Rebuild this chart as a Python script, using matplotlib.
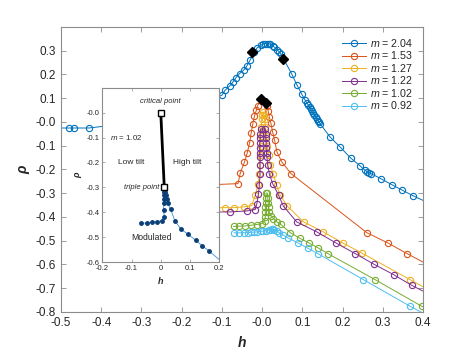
import matplotlib
matplotlib.use('Agg')
import matplotlib.pyplot as plt
import numpy as np

plt.rcParams['font.family'] = ['Liberation Sans', 'DejaVu Sans']
plt.rcParams['mathtext.fontset'] = 'custom'
plt.rcParams['mathtext.it'] = 'Liberation Sans:italic'
plt.rcParams['mathtext.rm'] = 'Liberation Sans'

# --- data ---
m_labels = ['2.04', '1.53', '1.27', '1.22', '1.02', '0.92']
colors = ['#0072BD', '#D95319', '#EDB120', '#7E2F8E', '#77AC30', '#4DBEEE']

h_204 = [-0.55, -0.481, -0.467, -0.431, -0.30, -0.20, -0.100, -0.092, -0.081, -0.073, -0.065, -0.056,
         -0.046, -0.038, -0.030, -0.020, -0.012, -0.004, 0.003, 0.008, 0.012, 0.016, 0.020, 0.026,
         0.030, 0.037, 0.043, 0.046, 0.053, 0.074, 0.086, 0.099, 0.107, 0.111, 0.115, 0.118, 0.121,
         0.124, 0.127, 0.130, 0.133, 0.136, 0.139, 0.142, 0.145, 0.169, 0.194, 0.220, 0.244, 0.256,
         0.262, 0.266, 0.271, 0.295, 0.322, 0.349, 0.374, 0.45]
r_204 = [-0.026, -0.026, -0.026, -0.026, 0.0, 0.05, 0.112, 0.133, 0.150, 0.167, 0.186, 0.203,
         0.217, 0.235, 0.259, 0.294, 0.312, 0.322, 0.327, 0.329, 0.329, 0.329, 0.327, 0.321,
         0.315, 0.304, 0.294, 0.287, 0.266, 0.200, 0.157, 0.115, 0.091, 0.080, 0.070, 0.062, 0.053,
         0.045, 0.036, 0.028, 0.020, 0.012, 0.005, -0.002, -0.010, -0.064, -0.106, -0.152, -0.186, -0.204,
         -0.211, -0.215, -0.218, -0.239, -0.264, -0.288, -0.310, -0.37]

h_153 = [-0.20, -0.060, -0.054, -0.044, -0.037, -0.031, -0.027, -0.023, -0.019, -0.014, -0.011,
         -0.003, 0.010, 0.012, 0.015, 0.018, 0.022, 0.026, 0.031, 0.037, 0.049, 0.072, 0.260,
         0.313, 0.360, 0.45]
r_153 = [-0.27, -0.260, -0.214, -0.170, -0.131, -0.088, -0.045, -0.008, 0.024, 0.050, 0.068,
         0.095, 0.080, 0.068, 0.045, 0.020, -0.007, -0.042, -0.077, -0.127, -0.169, -0.218, -0.466,
         -0.510, -0.554, -0.635]

h_127 = [-0.20, -0.092, -0.069, -0.046, -0.026, -0.017, -0.010, -0.007, -0.006, -0.005, -0.004,
         -0.003, -0.002, -0.001, 0.000, 0.002, 0.004, 0.006, 0.008, 0.010, 0.013, 0.016, 0.020,
         0.028, 0.036, 0.045, 0.063, 0.103, 0.152, 0.201, 0.248, 0.368, 0.45]
r_127 = [-0.363, -0.361, -0.361, -0.358, -0.353, -0.309, -0.262, -0.221, -0.18, -0.14, -0.10,
         -0.06, -0.02, 0.01, 0.03, 0.042, 0.03, 0.01, -0.02, -0.06, -0.10, -0.14, -0.18,
         -0.221, -0.267, -0.309, -0.355, -0.421, -0.463, -0.510, -0.552, -0.664, -0.74]

h_122 = [-0.20, -0.080, -0.038, -0.017, -0.013, -0.009, -0.007, -0.005, -0.005, -0.005, -0.006,
         -0.006, -0.006, -0.005, -0.005, -0.004, 0.008, 0.009, 0.009, 0.010, 0.010, 0.011, 0.012,
         0.014, 0.018, 0.027, 0.041, 0.053, 0.086, 0.136, 0.184, 0.231, 0.278, 0.327, 0.372, 0.45]
r_122 = [-0.38, -0.379, -0.375, -0.369, -0.344, -0.302, -0.267, -0.221, -0.18, -0.15, -0.13,
         -0.11, -0.09, -0.07, -0.05, -0.03, -0.03, -0.05, -0.07, -0.09, -0.11, -0.13, -0.15,
         -0.18, -0.221, -0.263, -0.309, -0.355, -0.421, -0.463, -0.510, -0.554, -0.599, -0.643, -0.688, -0.755]

h_102 = [-0.071, -0.057, -0.042, -0.027, -0.013, -0.001, 0.006, 0.008, 0.008, 0.008, 0.009,
         0.009, 0.010, 0.013, 0.014, 0.015, 0.016, 0.018, 0.022, 0.028, 0.036, 0.046, 0.070,
         0.093, 0.117, 0.140, 0.163, 0.281, 0.397, 0.45]
r_102 = [-0.440, -0.439, -0.438, -0.435, -0.432, -0.428, -0.417, -0.40, -0.38, -0.36, -0.34,
         -0.32, -0.30, -0.30, -0.32, -0.34, -0.36, -0.38, -0.395, -0.407, -0.420, -0.431, -0.466,
         -0.489, -0.510, -0.531, -0.554, -0.664, -0.776, -0.825]

h_092 = [-0.070, -0.057, -0.046, -0.036, -0.028, -0.019, -0.012, -0.003, 0.003, 0.010, 0.016,
         0.020, 0.024, 0.027, 0.030, 0.036, 0.043, 0.053, 0.065, 0.090, 0.113, 0.138, 0.252,
         0.368, 0.45]
r_092 = [-0.467, -0.467, -0.466, -0.466, -0.465, -0.464, -0.463, -0.461, -0.460, -0.458, -0.456,
         -0.453, -0.452, -0.451, -0.453, -0.459, -0.467, -0.477, -0.489, -0.510, -0.531, -0.554, -0.664,
         -0.776, -0.85]

# black diamonds (transition points)
dia_h = [-0.026, 0.053, -0.003, 0.010]
dia_r = [0.294, 0.266, 0.095, 0.080]

# inset: phase diagram for m = 1.02
crit_h, crit_r = 0.0, 0.0
trip_h, trip_r = 0.012, -0.30
bound_h = [0.0, 0.002, 0.004, 0.006, 0.008, 0.010, 0.012]
bound_r = [0.0, -0.05, -0.10, -0.15, -0.20, -0.25, -0.30]
left_h = [-0.068, -0.048, -0.031, -0.014, 0.003, 0.012, 0.010, 0.010, 0.011, 0.012, 0.012]
left_r = [-0.445, -0.443, -0.441, -0.438, -0.434, -0.418, -0.391, -0.365, -0.345, -0.331, -0.318]
right_h = [0.012, 0.016, 0.018, 0.020, 0.024, 0.034, 0.048, 0.069, 0.094, 0.119, 0.142, 0.165, 0.21]
right_r = [-0.305, -0.318, -0.331, -0.345, -0.365, -0.389, -0.434, -0.468, -0.489, -0.512, -0.535, -0.556, -0.60]

series_h = [h_204, h_153, h_127, h_122, h_102, h_092]
series_r = [r_204, r_153, r_127, r_122, r_102, r_092]

fig = plt.figure(figsize=(4.67, 3.5), dpi=100)
ax = fig.add_axes([0.1306, 0.1086, 0.7752, 0.815])

spine_c = '#8c8c8c'
text_c = '#262626'

for hh, rr, c, lab in zip(series_h, series_r, colors, m_labels):
    ax.plot(hh, rr, '-o', color=c, lw=0.7, ms=4.5, mfc='none', mew=0.8,
            label='$m$ = ' + lab)
ax.plot(dia_h, dia_r, 'D', color='black', ms=4.6, ls='none', zorder=5)

ax.set_xlim(-0.5, 0.4)
ax.set_ylim(-0.8, 0.4)
ax.set_xticks(np.arange(-0.5, 0.41, 0.1))
ax.set_yticks(np.arange(-0.8, 0.31, 0.1))
ax.xaxis.set_major_formatter(matplotlib.ticker.FormatStrFormatter('%.1f'))
ax.yaxis.set_major_formatter(matplotlib.ticker.FormatStrFormatter('%.1f'))
ax.tick_params(direction='in', top=True, right=True, length=3.5, width=0.6,
               color=spine_c, labelsize=8.5, labelcolor=text_c)
for s in ax.spines.values():
    s.set_color(spine_c)
    s.set_linewidth(0.8)
ax.set_xlabel('h', fontsize=10, fontweight='bold', style='italic', color=text_c, labelpad=5)
ax.set_ylabel('ρ', fontsize=10, fontweight='bold', style='italic', color=text_c, labelpad=4)

ax.legend(loc='upper left', bbox_to_anchor=(0.775, 0.965), frameon=False, fontsize=7.7,
          handlelength=2.3, handletextpad=0.4, labelspacing=0.05, borderpad=0,
          borderaxespad=0, labelcolor=text_c)

# inset
ins = fig.add_axes([0.219, 0.2514, 0.2505, 0.498])
ins.plot(left_h, left_r, '-o', color='#3d8fd6', lw=0.6, ms=2.5, mfc='#0b3f78', mec='#0b3f78')
ins.plot(right_h, right_r, '-o', color='#3d8fd6', lw=0.6, ms=2.5, mfc='#0b3f78', mec='#0b3f78')
ins.plot(bound_h, bound_r, '-', color='black', lw=2)
ins.plot([crit_h, trip_h], [crit_r, trip_r], 's', color='black', mfc='white', ms=4.5, mew=1, ls='none')
ins.set_xlim(-0.2, 0.2)
ins.set_ylim(-0.6, 0.1)
ins.set_xticks([-0.2, -0.1, 0, 0.1, 0.2])
ins.set_xticklabels(['-0.2', '-0.1', '0', '0.1', '0.2'])
ins.set_yticks(np.arange(-0.6, 0.01, 0.1))
ins.yaxis.set_major_formatter(matplotlib.ticker.FormatStrFormatter('%.1f'))
ins.tick_params(direction='in', top=True, right=True, length=2.5, width=0.5,
                color=spine_c, labelsize=5.5, labelcolor=text_c, pad=2)
for s in ins.spines.values():
    s.set_color(spine_c)
    s.set_linewidth(0.8)
ins.set_xlabel('h', fontsize=6.5, fontweight='bold', style='italic', color=text_c, labelpad=4)
ins.set_ylabel('ρ', fontsize=6.5, fontweight='bold', style='italic', color=text_c, labelpad=3)

ins.text(0.0, 0.045, 'critical point', style='italic', fontsize=5.5, ha='center', va='center', color=text_c)
ins.text(-0.175, -0.1, '$m$ = 1.02', fontsize=5.7, ha='left', va='center', color=text_c)
ins.text(-0.1, -0.2, 'Low tilt', fontsize=6, ha='center', va='center', color=text_c)
ins.text(0.09, -0.2, 'High tilt', fontsize=6, ha='center', va='center', color=text_c)
ins.text(-0.005, -0.30, 'triple point', style='italic', fontsize=5.5, ha='right', va='center', color=text_c)
ins.text(-0.03, -0.5, 'Modulated', fontsize=6.2, ha='center', va='center', color=text_c)

fig.savefig('out.png', dpi=100)
